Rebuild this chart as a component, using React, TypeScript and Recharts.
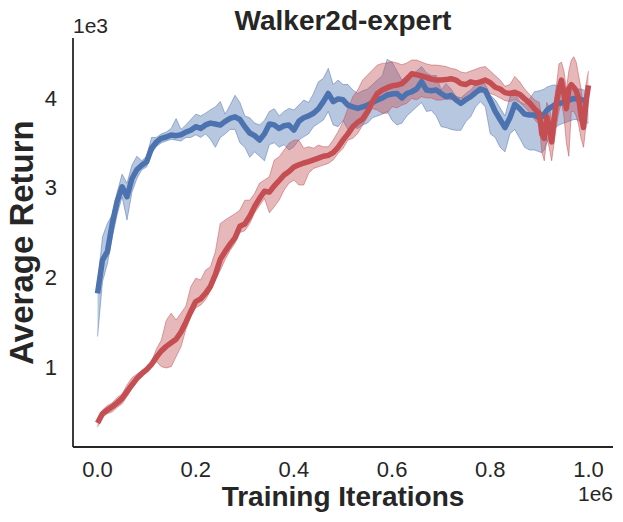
import React from "react";
import {
  ComposedChart,
  Line,
  Area,
  XAxis,
  YAxis,
} from "recharts";

// training iterations, in thousands
const iterationsK = [
  0, 10, 20, 30, 40, 50, 60, 70, 80, 90,
  100, 110, 120, 130, 140, 150, 160, 170, 180, 190,
  200, 210, 220, 230, 240, 250, 260, 270, 280, 290,
  300, 310, 320, 330, 340, 350, 360, 370, 380, 390,
  400, 410, 420, 430, 440, 450, 460, 470, 480, 490,
  500, 510, 520, 530, 540, 550, 560, 570, 580, 590,
  600, 610, 620, 630, 640, 650, 660, 670, 680, 690,
  700, 710, 720, 730, 740, 750, 760, 770, 780, 790,
  800, 810, 820, 830, 840, 850, 860, 870, 880, 890,
  900,
  905, 910, 915, 920, 925, 930, 935, 940, 945, 950,
  955, 960, 965, 970, 975, 980, 985, 990, 995, 1000,
];

const blueMean = [
  1822, 2193, 2286, 2602, 2850, 3010, 2899, 3100, 3200, 3250,
  3289, 3440, 3510, 3550, 3565, 3587, 3580, 3590, 3620, 3640,
  3680, 3661, 3700, 3720, 3710, 3698, 3740, 3773, 3790, 3760,
  3680, 3610, 3580, 3531, 3600, 3710, 3700, 3661, 3690, 3698,
  3642, 3740, 3780, 3800, 3830, 3880, 3960, 4050, 3960, 3990,
  3980, 3921, 3900, 3884, 3900, 3921, 3950, 3977, 4000, 4033,
  4045, 4050, 4000, 4050, 4070, 4100, 4181, 4089, 4080, 4089,
  4050, 4014, 4030, 3980, 3940, 3980, 4014, 4060, 4100, 4080,
  3970, 3850, 3760, 3670, 3780, 3930, 3880, 3820, 3810, 3810,
  3780,
  3790, 3820, 3860, 3884, 3900, 3920, 3935, 3940, 3945, 3955,
  3965, 3975, 3985, 3995, 3990, 3985, 3980, 3978, 3975, 3970,
];

const blueLow = [
  1340, 1950, 2150, 2450, 2700, 2900, 2640, 2950, 3100, 3200,
  3230, 3380, 3460, 3500, 3520, 3540, 3530, 3520, 3560, 3560,
  3590, 3560, 3600, 3540, 3450, 3560, 3600, 3650, 3650, 3500,
  3450, 3340, 3400, 3350, 3300, 3480, 3500, 3450, 3480, 3420,
  3456, 3531, 3568, 3600, 3680, 3717, 3754, 3850, 3700, 3680,
  3750, 3650, 3680, 3660, 3700, 3720, 3780, 3800, 3820, 3850,
  3750, 3700, 3720, 3800, 3850, 3900, 3950, 3850, 3860, 3800,
  3680, 3670, 3650, 3640, 3640, 3735, 3790, 3900, 3960, 3900,
  3600, 3560, 3450, 3400, 3600, 3650, 3550, 3450, 3420, 3420,
  3400,
  3390, 3420, 3500, 3550, 3600, 3650, 3680, 3700, 3710, 3720,
  3730, 3740, 3750, 3760, 3760, 3750, 3740, 3730, 3720, 3720,
];

const blueHigh = [
  1900, 2450, 2600, 2700, 2950, 3150, 3050, 3250, 3350, 3300,
  3350, 3560, 3560, 3600, 3620, 3660, 3770, 3650, 3700, 3760,
  3820, 3800, 3830, 3870, 3900, 3960, 3820, 3920, 4030, 3950,
  3800, 3780, 3720, 3700, 3750, 3850, 3880, 3800, 3850, 3884,
  3866, 3921, 3977, 3950, 4051, 4181, 4219, 4330, 4150, 4200,
  4150, 4150, 4090, 4050, 4080, 4100, 4150, 4200, 4250, 4430,
  4400, 4300, 4200, 4250, 4250, 4300, 4350, 4280, 4250, 4250,
  4090, 4160, 4100, 4020, 4000, 4050, 4090, 4150, 4180, 4150,
  4030, 3980, 3890, 3800, 4014, 4050, 3960, 3930, 3990, 4070,
  4080,
  4090, 4100, 4120, 4130, 4140, 4145, 4140, 4130, 4120, 4110,
  4110, 4120, 4130, 4120, 4110, 4100, 4100, 4090, 4080, 4080,
];

const redMean = [
  376, 480, 520, 557, 600, 650, 725, 800, 870, 925,
  970, 1030, 1110, 1180, 1230, 1270, 1310, 1390, 1500, 1620,
  1730, 1760, 1822, 1900, 2030, 2200, 2290, 2370, 2440, 2570,
  2595, 2680, 2790, 2880, 2960, 2950, 3020, 3080, 3141, 3180,
  3230, 3255, 3275, 3290, 3310, 3330, 3350, 3360, 3390, 3450,
  3530, 3600, 3680, 3730, 3765, 3850, 3960, 4050, 4090, 4115,
  4135, 4144, 4160, 4210, 4270, 4260, 4245, 4230, 4210, 4200,
  4200, 4205, 4215, 4200, 4160, 4150, 4180, 4165, 4180, 4200,
  4170, 4120, 4100, 4060, 4050, 4065, 4040, 3990, 3945, 3880,
  3830,
  3600, 3550, 3790, 3700, 3510, 3750, 3950, 4100, 4200, 4050,
  3880, 4100, 4150, 4120, 4080, 4000, 3800, 3670, 3950, 4140,
];

const redLow = [
  330, 440, 480, 500, 550, 590, 670, 760, 840, 900,
  940, 1000, 1060, 1004, 990, 1004, 1115, 1226, 1420, 1560,
  1660, 1690, 1750, 1850, 1970, 2080, 2200, 2300, 2380, 2500,
  2520, 2600, 2720, 2800, 2880, 2720, 2787, 2862, 2973, 3050,
  3085, 3030, 3030, 3160, 3215, 3233, 3252, 3270, 3308, 3382,
  3438, 3531, 3550, 3605, 3698, 3790, 3884, 3865, 3830, 3830,
  3903, 3890, 3921, 3940, 3995, 3980, 4014, 4000, 4000, 3977,
  3977, 3990, 3980, 3990, 4000, 3980, 4020, 4050, 4060, 4080,
  4050, 4030, 4000, 3970, 3960, 3980, 3950, 3900, 3840, 3760,
  3700,
  3400, 3300, 3550, 3450, 3300, 3500, 3700, 3850, 3950, 3800,
  3500, 3350, 3850, 3850, 3800, 3700, 3550, 3450, 3700, 4000,
];

const redHigh = [
  420, 520, 570, 600, 660, 700, 800, 880, 920, 960,
  1000, 1060, 1200, 1300, 1520, 1600, 1524, 1600, 1680, 1895,
  1990, 1970, 2080, 2118, 2285, 2600, 2640, 2675, 2710, 2750,
  2860, 2860, 2935, 3050, 3085, 3122, 3308, 3345, 3420, 3495,
  3530, 3531, 3440, 3456, 3440, 3475, 3456, 3456, 3531, 3624,
  3735, 3884, 4014, 4089, 4200, 4256, 4312, 4367, 4386, 4390,
  4404, 4390, 4370, 4390, 4423, 4423, 4400, 4380, 4367, 4367,
  4360, 4350, 4330, 4320, 4290, 4280, 4300, 4320, 4340, 4350,
  4300, 4250, 4200, 4130, 4150, 4240, 4180, 4100, 4040, 3980,
  3950,
  3750, 3700, 3950, 3900, 3750, 3950, 4150, 4380, 4400, 4300,
  4100, 4300, 4420, 4460, 4400, 4250, 4100, 3900, 4150, 4300,
];

const xTicks = [0, 200000, 400000, 600000, 800000, 1000000];
const yTicks = [1000, 2000, 3000, 4000];

const BLUE = "#4C72B0";
const RED = "#C44E52";
const INK = "#262626";
const FONT = '"Liberation Sans", Arial, sans-serif';

const data = iterationsK.map((k, i) => ({
  it: k * 1000,
  blueMean: blueMean[i],
  blueBand: [blueLow[i], blueHigh[i]],
  redMean: redMean[i],
  redBand: [redLow[i], redHigh[i]],
}));

const tickStyle = { fill: INK, fontSize: 22, fontFamily: FONT };

export default function App() {
  return (
    <div
      style={{
        position: "fixed",
        left: 0,
        top: 0,
        width: 623,
        height: 522,
        background: "#fff",
        fontFamily: FONT,
      }}
    >
      <ComposedChart
        width={623}
        height={522}
        data={data}
        margin={{ top: 38, right: 10, bottom: 0, left: 0 }}
      >
        <XAxis
          dataKey="it"
          type="number"
          domain={[-50000, 1050000]}
          allowDataOverflow
          ticks={xTicks}
          tickFormatter={(v: number) => (v / 1e6).toFixed(1)}
          height={75}
          tickSize={0}
          tickMargin={14}
          tickLine={false}
          axisLine={{ stroke: INK, strokeWidth: 1.8 }}
          tick={tickStyle}
          label={{
            value: "Training Iterations",
            position: "insideBottom",
            offset: 16,
            style: { fill: INK, fontSize: 28, fontWeight: "bold", fontFamily: FONT },
          }}
        />
        <YAxis
          type="number"
          domain={[108, 4669]}
          allowDataOverflow
          ticks={yTicks}
          tickFormatter={(v: number) => String(v / 1000)}
          width={73}
          tickSize={0}
          tickMargin={16}
          tickLine={false}
          axisLine={{ stroke: INK, strokeWidth: 1.8 }}
          tick={tickStyle}
          label={{
            value: "Average Return",
            angle: -90,
            position: "insideLeft",
            offset: 21,
            style: {
              fill: INK,
              fontSize: 33,
              fontWeight: "bold",
              fontFamily: FONT,
              textAnchor: "middle",
            },
          }}
        />
        <Area
          dataKey="blueBand"
          type="linear"
          fill={BLUE}
          fillOpacity={0.4}
          stroke={BLUE}
          strokeOpacity={0.5}
          strokeWidth={1}
          isAnimationActive={false}
          activeDot={false}
        />
        <Line
          dataKey="blueMean"
          type="linear"
          stroke={BLUE}
          strokeWidth={5.5}
          strokeLinejoin="round"
          dot={false}
          activeDot={false}
          isAnimationActive={false}
        />
        <Area
          dataKey="redBand"
          type="linear"
          fill={RED}
          fillOpacity={0.4}
          stroke={RED}
          strokeOpacity={0.5}
          strokeWidth={1}
          isAnimationActive={false}
          activeDot={false}
        />
        <Line
          dataKey="redMean"
          type="linear"
          stroke={RED}
          strokeWidth={5.5}
          strokeLinejoin="round"
          dot={false}
          activeDot={false}
          isAnimationActive={false}
        />
      </ComposedChart>
      <svg
        width={623}
        height={522}
        style={{ position: "absolute", left: 0, top: 0, pointerEvents: "none" }}
      >
        <text
          x={343}
          y={30}
          textAnchor="middle"
          fontSize={28}
          fontWeight="bold"
          fill={INK}
          fontFamily={FONT}
        >
          Walker2d-expert
        </text>
        <text x={73} y={33} fontSize={21} fill={INK} fontFamily={FONT}>
          1e3
        </text>
        <text x={613} y={501} textAnchor="end" fontSize={21} fill={INK} fontFamily={FONT}>
          1e6
        </text>
      </svg>
    </div>
  );
}
